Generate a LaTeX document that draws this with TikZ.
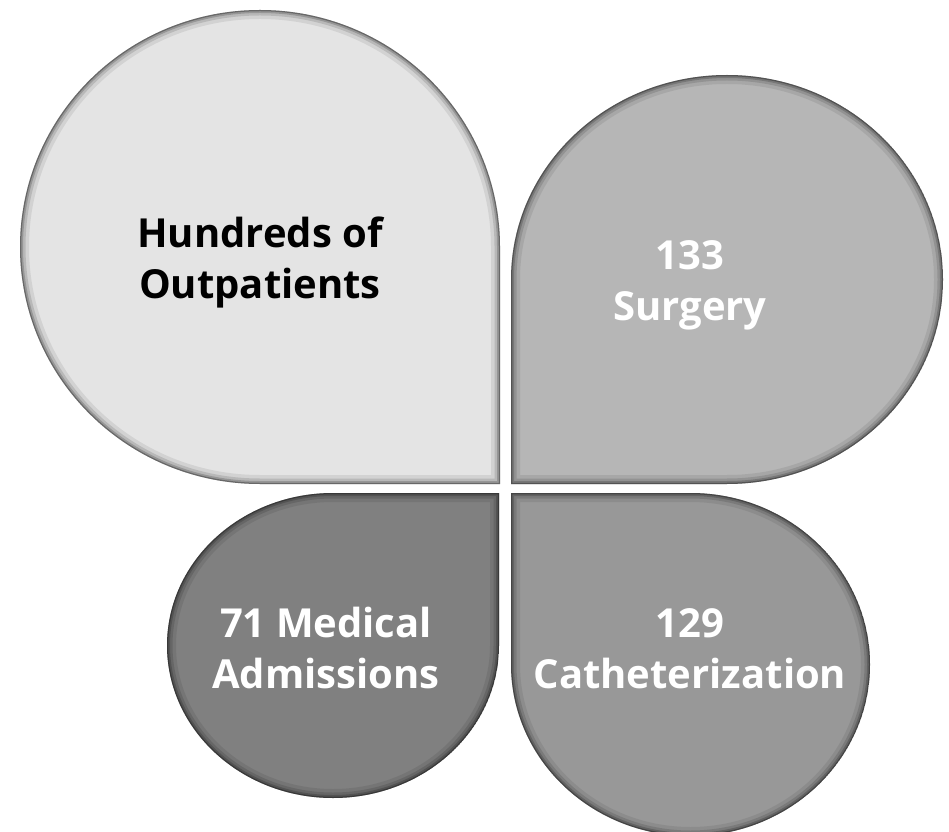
\documentclass[tikz,border=0pt]{standalone}
\usepackage{fontspec}
\setmainfont{Open Sans}[Ligatures=NoCommon]
\definecolor{outpatgray}{HTML}{E4E4E4}
\definecolor{surggray}{HTML}{B6B6B6}
\definecolor{medgray}{HTML}{808080}
\definecolor{cathgray}{HTML}{989898}
\tikzstyle{petaltext} = [align=center, inner sep=0pt, anchor=north, text=white, font=\bfseries\fontsize{40}{51}\selectfont]
\newcommand{\petal}[2]{%
  \begin{scope}
    \clip #1;
    \fill[#2] #1;
    \foreach \w/\o in {18/0.08, 11/0.12, 6/0.18, 2.5/0.3} {
      \draw[line width=\w pt, draw opacity=\o] #1;
    }
  \end{scope}}

\begin{document}
\begin{tikzpicture}[x=1pt, y=1pt]
  \useasboundingbox (0, 0) rectangle (949, 831);
  \petal{(260, 347) -- (500, 347) -- (500, 584) arc[start angle=0, end angle=270, x radius=240, y radius=237] -- cycle}{outpatgray}
  \petal{(511, 551.5) -- (511, 347) -- (727, 347) arc[start angle=-90, end angle=180, x radius=216, y radius=204.5] -- cycle}{surggray}
  \petal{(499, 185.5) -- (499, 338) -- (333, 338) arc[start angle=90, end angle=360, x radius=166, y radius=152.5] -- cycle}{medgray}
  \petal{(690.5, 338) -- (511, 338) -- (511, 166.5) arc[start angle=180, end angle=450, x radius=179.5, y radius=171.5] -- cycle}{cathgray}
  \node[petaltext, text=black] (outpatients) at (260, 614) {Hundreds of\\Outpatients};
  \node[petaltext] (surgery) at (690, 591) {133\\Surgery};
  \node[petaltext] (medical) at (326, 224) {71 Medical\\Admissions};
  \node[petaltext] (cath) at (690, 223) {129\\Catheterization};
\end{tikzpicture}
\end{document}
